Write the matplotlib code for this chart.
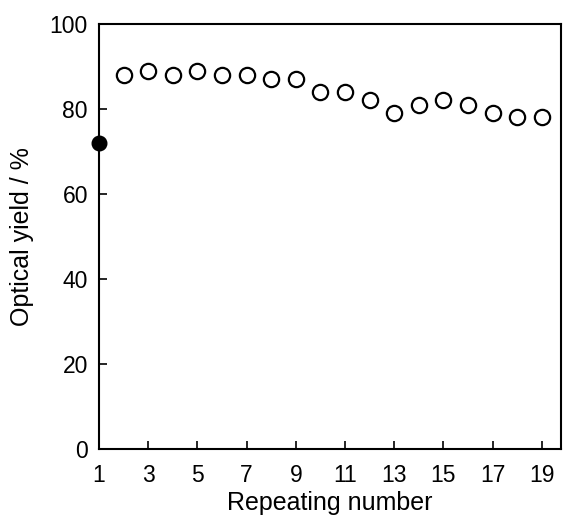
import matplotlib.pyplot as plt

plt.rcParams['font.family'] = ['Liberation Sans', 'DejaVu Sans']

# first run (filled) and repeated runs (open)
first_run = [1]
first_yield = [72]
repeat_run = list(range(2, 20))
repeat_yield = [88, 89, 88, 89, 88, 88, 87, 87, 84, 84, 82, 79, 81, 82, 81, 79, 78, 78]
x_ticks = [1, 3, 5, 7, 9, 11, 13, 15, 17, 19]
y_ticks = [0, 20, 40, 60, 80, 100]

fig = plt.figure(figsize=(5.67, 5.18), dpi=100)
ax = fig.add_axes([0.1746, 0.1332, 0.8144, 0.8205])

ax.plot(first_run, first_yield, 'o', color='black', ms=10.5, clip_on=False, zorder=5)
ax.plot(repeat_run, repeat_yield, 'o', mfc='white', mec='black', mew=1.6, ms=11,
        clip_on=False, zorder=5)

ax.set_xlim(1, 19.77)
ax.set_ylim(0, 100)
ax.set_xticks(x_ticks)
ax.set_yticks(y_ticks)
ax.tick_params(direction='in', length=6, width=1.2, labelsize=16.5)
ax.tick_params(axis='x', pad=11)
ax.tick_params(axis='y', pad=8)
for s in ax.spines.values():
    s.set_linewidth(1.5)

ax.set_xlabel('Repeating number', fontsize=18, labelpad=3)
ax.set_ylabel('Optical yield / %', fontsize=18, labelpad=11)

fig.savefig('out.png', dpi=100)
